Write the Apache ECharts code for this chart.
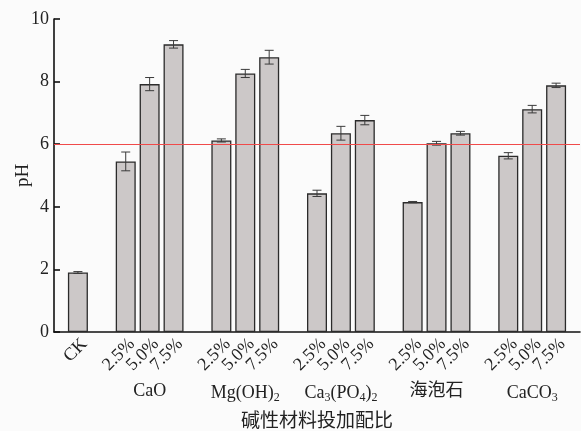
<!DOCTYPE html>
<html>
<head>
<meta charset="utf-8">
<script src="https://cdn.jsdelivr.net/npm/echarts@6/dist/echarts.min.js"></script>
<style>
html,body{margin:0;padding:0;background:#fbfbfb;}
#chart{width:581px;height:431px;}
</style>
</head>
<body>
<div id="chart"></div>
<script>
// Category slots (blank slots separate the groups)
const categories = ['', 'CK', '', '2.5%', '5.0%', '7.5%', '', '2.5%', '5.0%', '7.5%', '', '2.5%', '5.0%', '7.5%', '', '2.5%', '5.0%', '7.5%', '', '2.5%', '5.0%', '7.5%', ''];
// Group names placed under the middle slot of each group
const groupLabels = ['', '', '', '', 'CaO', '', '', '', 'Mg(OH)2', '', '', '', 'Ca3(PO4)2', '', '', '', '海泡石', '', '', '', 'CaCO3', '', ''];
// pH means and standard errors
const phMean = [null, 1.90, null, 5.45, 7.92, 9.19, null, 6.12, 8.26, 8.78, null, 4.43, 6.35, 6.77, null, 4.15, 6.03, 6.35, null, 5.63, 7.12, 7.88, null];
const phErr  = [null, 0.03, null, 0.30, 0.21, 0.12, null, 0.05, 0.13, 0.22, null, 0.10, 0.22, 0.15, null, 0.02, 0.06, 0.06, null, 0.10, 0.12, 0.07, null];
const yTicks = [0, 2, 4, 6, 8, 10];
const thresholdPH = 6;
const xAxisTitle = '碱性材料投加配比';
const yAxisTitle = 'pH';

const FONT = "'Liberation Serif', 'Noto Sans CJK SC', serif";
const chart = echarts.init(document.getElementById('chart'));

const errData = [];
phMean.forEach((m, i) => { if (m !== null) errData.push([i, m, phErr[i]]); });

function chemRich(name) {
  if (!name) return '';
  return '{n|' + name.replace(/(\d)/g, '}{s|$1}{n|') + '}';
}

const option = {
  backgroundColor: '#fbfbfb',
  animation: false,
  grid: { left: 54, right: 1, top: 19, bottom: 99, containLabel: false, outerBoundsMode: 'none' },
  xAxis: [{
    type: 'category',
    data: categories,
    boundaryGap: false,
    name: xAxisTitle,
    nameLocation: 'middle',
    nameGap: 81,
    nameMoveOverlap: false,
    nameTextStyle: { fontFamily: FONT, fontSize: 19, color: '#222' },
    axisLine: { lineStyle: { color: '#111', width: 1.6 } },
    axisTick: { inside: true, length: 6, lineStyle: { color: '#111', width: 1.6 },
      interval: (idx, val) => val !== '' },
    axisLabel: { interval: 0, rotate: 45, margin: 3, verticalAlign: 'top',
      fontFamily: FONT, fontSize: 18, color: '#222' },
    splitLine: { show: false }
  }, {
    type: 'category',
    data: groupLabels,
    boundaryGap: false,
    position: 'bottom',
    axisLine: { show: false },
    axisTick: { show: false },
    splitLine: { show: false },
    axisLabel: {
      interval: 0, margin: 50, color: '#222',
      formatter: v => chemRich(v),
      rich: {
        n: { fontFamily: FONT, fontSize: 18, color: '#222' },
        s: { fontFamily: FONT, fontSize: 12, color: '#222', padding: [10, 0, 0, 0] }
      }
    }
  }],
  yAxis: {
    type: 'value',
    min: yTicks[0], max: yTicks[yTicks.length - 1], interval: 2,
    name: yAxisTitle,
    nameLocation: 'middle',
    nameGap: 21,
    nameMoveOverlap: false,
    nameTextStyle: { fontFamily: FONT, fontSize: 19, color: '#222' },
    axisLine: { show: true, lineStyle: { color: '#111', width: 1.6 } },
    axisTick: { show: true, inside: true, length: 6, lineStyle: { color: '#111', width: 1.6 } },
    axisLabel: { margin: 5, fontFamily: FONT, fontSize: 18, color: '#222' },
    splitLine: { show: false }
  },
  series: [{
    type: 'bar',
    data: phMean.map(v => v === null ? '-' : v),
    barWidth: 20,
    itemStyle: { color: '#ccc8c8', borderColor: '#2b2b2b', borderWidth: 1.3 },
    markLine: {
      silent: true, symbol: 'none', label: { show: false },
      lineStyle: { color: '#f04a4a', type: 'solid', width: 1.2 },
      data: [{ yAxis: thresholdPH }],
      z: 10
    }
  }, {
    type: 'custom',
    data: errData,
    z: 5,
    renderItem: function (params, api) {
      const x = api.value(0), m = api.value(1), e = api.value(2);
      const hi = api.coord([x, m + e]);
      const lo = api.coord([x, m - e]);
      const w = 4.5;
      const style = { stroke: '#3a3a3a', lineWidth: 1 };
      return {
        type: 'group',
        children: [
          { type: 'line', shape: { x1: hi[0], y1: hi[1], x2: lo[0], y2: lo[1] }, style },
          { type: 'line', shape: { x1: hi[0] - w, y1: hi[1], x2: hi[0] + w, y2: hi[1] }, style },
          { type: 'line', shape: { x1: lo[0] - w, y1: lo[1], x2: lo[0] + w, y2: lo[1] }, style }
        ]
      };
    }
  }]
};
chart.setOption(option);
</script>
</body>
</html>
